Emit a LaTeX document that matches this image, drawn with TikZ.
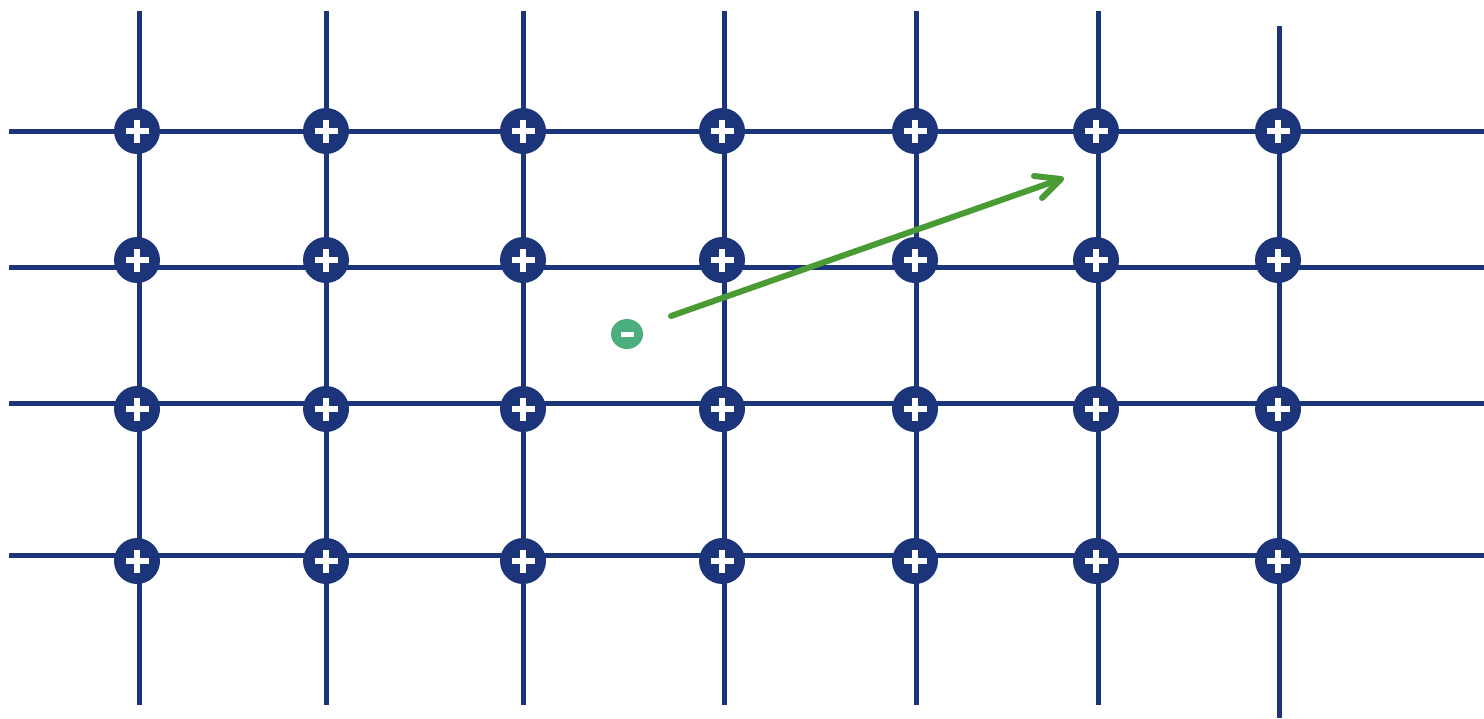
\documentclass[tikz,border=0pt]{standalone}
\usetikzlibrary{calc,shapes.geometric}
\definecolor{navy}{RGB}{27,52,122}
\definecolor{arrowgreen}{RGB}{74,155,52}
\definecolor{iongreen}{RGB}{76,174,124}
\tikzset{
  gridline/.style={draw=navy, line width=5pt},
  ion/.style={circle, fill=navy, minimum size=46pt, inner sep=0pt,
    path picture={
      \draw[white, line width=6.5pt]
        ([xshift=-11.5pt]path picture bounding box.center) -- ++(23pt,0)
        ([yshift=-11.5pt]path picture bounding box.center) -- ++(0,23pt);
    }},
  electron/.style={ellipse, fill=iongreen, minimum width=32pt, minimum height=30pt, inner sep=0pt,
    path picture={
      \fill[white] ($(path picture bounding box.center)+(-6.5pt,-2.5pt)$) rectangle ++(13pt,5pt);
    }},
  motion/.style={draw=arrowgreen, line width=6pt, line cap=round, line join=round},
}
\begin{document}
\begin{tikzpicture}[x=1pt,y=-1pt]
\useasboundingbox (0,0) rectangle (1484,718);
% horizontal lines
\foreach \yy in {131,267,403,555} {
  \draw[gridline] (9,\yy) -- (1484,\yy);
}
% vertical lines
\foreach \xx in {139,326,523,724,916,1098} {
  \draw[gridline] (\xx,11) -- (\xx,705);
}
\draw[gridline] (1279,26) -- (1279,718);
% ions
\foreach \xx/\c in {137/1,326/2,523/3,722/4,915/5,1096/6,1278/7} {
  \node[ion] (a\c) at (\xx,131) {};
  \node[ion] (b\c) at (\xx,260) {};
  \node[ion] (c\c) at (\xx,409) {};
  \node[ion] (d\c) at (\xx,561) {};
}
% electron
\node[electron] (e) at (627,334) {};
\coordinate (s) at (671,316);
\coordinate (t) at (1061,179);
\coordinate (h1) at (1034,176);
\coordinate (h2) at (1042,198);
\draw[motion] (s) -- (t);
\draw[motion] (h1) -- (t) -- (h2);
\end{tikzpicture}
\end{document}
